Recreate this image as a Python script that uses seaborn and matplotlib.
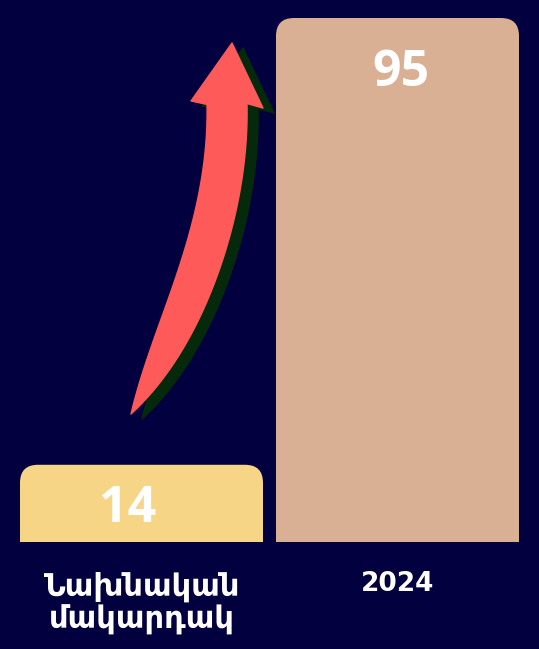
import numpy as np
import matplotlib
matplotlib.use("Agg")
import matplotlib.pyplot as plt
import seaborn as sns
import pandas as pd
from matplotlib.patches import FancyBboxPatch, PathPatch
from matplotlib.path import Path

# data
categories = ["Նախնական\nմակարդակ", "2024"]
values = [14, 95]
bar_colors = ["#F6D587", "#D9B094"]

BG = "#02003E"
W, H = 539, 649

sns.set_theme(style="white")
plt.rcParams["font.family"] = ["DejaVu Sans"]

fig = plt.figure(figsize=(W / 100, H / 100), dpi=100, facecolor=BG)
# axes: x 20..519 px, y 18..542 px (from top)
ax = fig.add_axes([20 / W, (H - 542) / H, 499 / W, 524 / H])
ax.set_facecolor(BG)

df = pd.DataFrame({"cat": categories, "val": values})
bw = 243 / 256
sns.barplot(data=df, x="cat", y="val", hue="cat", palette=bar_colors,
            width=bw, legend=False, ax=ax, saturation=1)
ax.set_xlim(-bw / 2, 1 + bw / 2)
ax.set_ylim(0, 95)

# swap plain bars for rounded-top ones
px_x = 499 / (1 + bw)        # pixels per x unit
px_y = 524 / 95              # pixels per y unit
r = 18 / px_x
for p in list(ax.patches):
    x0, w, h = p.get_x(), p.get_width(), p.get_height()
    fc = p.get_facecolor()
    p.remove()
    fb = FancyBboxPatch((x0, -10), w, h + 10,
                        boxstyle=f"round,pad=0,rounding_size={r}",
                        mutation_aspect=px_x / px_y, fc=fc, ec="none",
                        clip_on=True)
    ax.add_patch(fb)

# value labels
offsets = [(-14, -19), (3, -30)]
for i, v in enumerate(values):
    ax.annotate(str(v), (i, v), xytext=offsets[i], textcoords="offset pixels",
                ha="center", va="top", color="white", fontsize=36,
                fontweight="bold", family=["Open Sans", "DejaVu Sans"])

for s in ax.spines.values():
    s.set_visible(False)
ax.set_yticks([])
ax.set_xlabel("")
ax.set_ylabel("")
ax.tick_params(axis="x", length=0, pad=21, colors="white")
labs = ax.get_xticklabels()
labs[0].set_fontsize(22)
labs[0].set_fontweight("semibold")
labs[0].set_linespacing(1.15)
labs[1].set_fontsize(19)
labs[1].set_fontweight("bold")
for lab in labs:
    lab.set_color("white")

# curved arrow overlay, in pixel space
ov = fig.add_axes([0, 0, 1, 1])
ov.set_xlim(0, W)
ov.set_ylim(H, 0)
ov.axis("off")
ov.patch.set_alpha(0)

P0 = np.array([131.0, 414.0])
P1 = np.array([230.0, 245.0])
P2 = np.array([227.0, 104.0])
t = np.linspace(0, 1, 80)[:, None]
c = (1 - t) ** 2 * P0 + 2 * t * (1 - t) * P1 + t ** 2 * P2
d = 2 * (1 - t) * (P1 - P0) + 2 * t * (P2 - P1)
d = d / np.linalg.norm(d, axis=1, keepdims=True)
nrm = np.column_stack([-d[:, 1], d[:, 0]])
wid = 40 * (1 - (1 - t[:, 0]) ** 6) / 2
left = c - nrm * wid[:, None]
right = c + nrm * wid[:, None]
if left[-1, 0] > right[-1, 0]:
    left, right = right, left
head = np.array([[191.0, 101.0], [232.0, 43.0], [263.0, 108.0]])
poly = np.vstack([left, head, right[::-1]])


def draw_arrow(off, color):
    pts = poly + np.array(off)
    ov.add_patch(PathPatch(Path(np.vstack([pts, pts[:1]]), closed=True),
                           fc=color, ec=color, lw=1, joinstyle="round"))


draw_arrow((11, 5), "#052A0B")
draw_arrow((0, 0), "#FF5A5A")

fig.savefig("out.png", dpi=100, facecolor=BG)
